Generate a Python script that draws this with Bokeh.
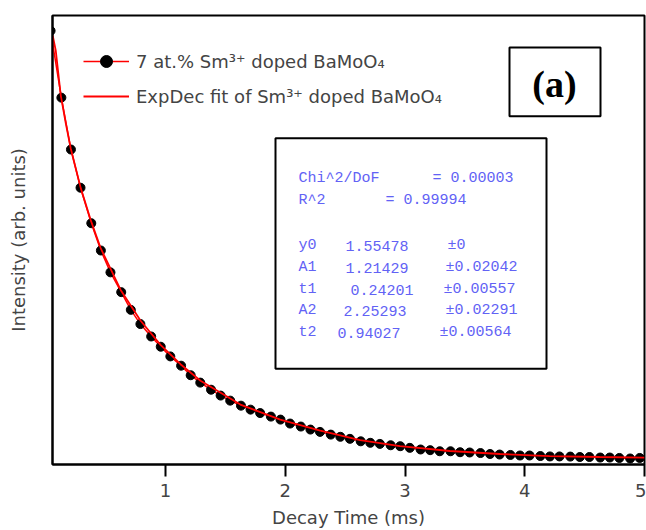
from bokeh.plotting import figure
from bokeh.models import Range1d, FixedTicker, BoxAnnotation, Label, Legend, LegendItem
from bokeh.embed import file_html
from bokeh.resources import INLINE

# ---- data ----
time_ms = [0.04, 0.13, 0.21, 0.29, 0.38, 0.46, 0.54, 0.63, 0.71, 0.79,
           0.88, 0.96, 1.04, 1.13, 1.21, 1.29, 1.38, 1.46, 1.54, 1.63,
           1.71, 1.79, 1.88, 1.96, 2.04, 2.13, 2.21, 2.29, 2.38, 2.46,
           2.54, 2.63, 2.71, 2.79, 2.88, 2.96, 3.04, 3.13, 3.21, 3.29,
           3.38, 3.46, 3.54, 3.63, 3.71, 3.79, 3.88, 3.96, 4.04, 4.13,
           4.21, 4.29, 4.38, 4.46, 4.54, 4.63, 4.71, 4.79, 4.88, 4.96]
intensity = [4.70, 4.21, 3.83, 3.55, 3.29, 3.09, 2.93, 2.785, 2.655, 2.551,
             2.460, 2.385, 2.314, 2.246, 2.176, 2.122, 2.070, 2.027, 1.990, 1.953,
             1.924, 1.899, 1.873, 1.851, 1.822, 1.800, 1.778, 1.761, 1.741, 1.725,
             1.710, 1.692, 1.681, 1.673, 1.663, 1.656, 1.644, 1.632, 1.627, 1.619,
             1.619, 1.612, 1.610, 1.606, 1.599, 1.595, 1.592, 1.588, 1.588, 1.584,
             1.581, 1.581, 1.580, 1.577, 1.577, 1.573, 1.573, 1.570, 1.566, 1.570]

fit_time = [0.058, 0.083, 0.125, 0.167, 0.208, 0.292, 0.375, 0.458, 0.625, 0.792,
            0.958, 1.125, 1.292, 1.625, 1.958, 2.292, 2.625, 2.958, 3.375, 3.792,
            4.208, 4.625, 5.0]
fit_intensity = [4.665, 4.556, 4.227, 4.022, 3.839, 3.547, 3.313, 3.108, 2.801, 2.575,
                 2.399, 2.257, 2.136, 1.961, 1.851, 1.771, 1.701, 1.657, 1.621, 1.599,
                 1.584, 1.577, 1.573]

x_ticks = [1, 2, 3, 4, 5]

legend_labels = ["7 at.% Sm\u00b3\u207a doped BaMoO\u2084",
                 "ExpDec fit of Sm\u00b3\u207a doped BaMoO\u2084"]

param_names = ["Chi^2/DoF", "R^2", "y0", "A1", "t1", "A2", "t2"]
param_values = ["= 0.00003", "= 0.99994", "1.55478", "1.21429", "0.24201", "2.25293", "0.94027"]
param_errors = ["", "", "\u00b10", "\u00b10.02042", "\u00b10.00557", "\u00b10.02291", "\u00b10.00564"]

# ---- layout helpers (pixel -> data, for annotations only) ----
X0, XMAX = 0.056, 5.0
Y0, YMAX = 1.522, 4.812
L, T, R_, B = 52, 15, 644, 465
def px2x(px):
    return X0 + (px - L) * (XMAX - X0) / (R_ - L)
def py2y(py):
    return Y0 + (B - py) * (YMAX - Y0) / (B - T)

p = figure(width=646, height=530, output_backend="svg", toolbar_location=None,
           x_range=Range1d(X0, XMAX), y_range=Range1d(Y0, YMAX),
           min_border_left=L, min_border_top=T, min_border_right=646 - R_,
           min_border_bottom=530 - B)
p.xgrid.visible = False
p.ygrid.visible = False
p.outline_line_color = "black"
p.outline_line_width = 2
p.background_fill_color = "white"
p.border_fill_color = "white"

xa = p.xaxis[0]
xa.ticker = FixedTicker(ticks=x_ticks)
xa.major_tick_out = 12
xa.major_tick_in = 0
xa.minor_tick_line_color = None
xa.axis_line_width = 2
xa.major_tick_line_width = 2
xa.major_label_text_font = "DejaVu Sans"
xa.major_label_text_font_size = "18px"
xa.major_label_standoff = 7
xa.axis_label = "Decay Time (ms)"
xa.axis_label_text_font = "DejaVu Sans"
xa.axis_label_text_font_size = "18px"
xa.axis_label_text_font_style = "normal"
xa.axis_label_standoff = 7

ya = p.yaxis[0]
ya.ticker = FixedTicker(ticks=[])
ya.major_tick_line_color = None
ya.minor_tick_line_color = None
ya.major_label_standoff = 0
ya.axis_line_width = 2
ya.axis_label = "Intensity (arb. units)"
ya.axis_label_text_font = "DejaVu Sans"
ya.axis_label_text_font_size = "18px"
ya.axis_label_text_font_style = "normal"
ya.axis_label_standoff = 24

data_line = p.line(time_ms, intensity, line_color="red", line_width=1.5)
data_pts = p.scatter(time_ms, intensity, marker="circle", size=9,
                     fill_color="black", line_color="black")
fit_line = p.line(fit_time, fit_intensity, line_color="red", line_width=1.8)

legend = Legend(items=[LegendItem(label=legend_labels[0], renderers=[data_line, data_pts]),
                       LegendItem(label=legend_labels[1], renderers=[fit_line])],
                location="top_left")
legend.border_line_color = None
legend.background_fill_alpha = 0
legend.label_text_font = "DejaVu Sans"
legend.label_text_font_size = "18px"
legend.glyph_width = 46
legend.glyph_height = 30
legend.label_height = 30
legend.spacing = 5
legend.margin = 31
legend.padding = 15
legend.label_standoff = 7
p.add_layout(legend)

# parameter box
p.add_layout(BoxAnnotation(left=px2x(275), right=px2x(546), top=py2y(138), bottom=py2y(369),
                           fill_alpha=0, line_color="black", line_alpha=1, line_width=2))
line_y = [178, 200, 246, 268, 290, 311, 333]
val_x = [432, 385, 345, 345, 350, 343, 337]
err_x = [0, 0, 447, 445, 443, 445, 439]
blue = "#6262f5"
for i in range(len(param_names)):
    p.add_layout(Label(x=px2x(298), y=py2y(line_y[i]), text=param_names[i],
                       text_font="Liberation Mono", text_font_size="15px",
                       text_color=blue, text_baseline="middle"))
    p.add_layout(Label(x=px2x(val_x[i]), y=py2y(line_y[i]), text=param_values[i],
                       text_font="Liberation Mono", text_font_size="15px",
                       text_color=blue, text_baseline="middle"))
    if param_errors[i]:
        p.add_layout(Label(x=px2x(err_x[i]), y=py2y(line_y[i]), text=param_errors[i],
                           text_font="Liberation Mono", text_font_size="15px",
                           text_color=blue, text_baseline="middle"))

# (a) box
p.add_layout(BoxAnnotation(left=px2x(509), right=px2x(600), top=py2y(47), bottom=py2y(116),
                           fill_alpha=0, line_color="black", line_alpha=1, line_width=2))
p.add_layout(Label(x=px2x(554), y=py2y(84), text="(a)", text_font="Liberation Serif",
                   text_font_size="38px", text_font_style="bold", text_color="black",
                   text_align="center", text_baseline="middle"))

open("out.html", "w").write(file_html(p, INLINE))
